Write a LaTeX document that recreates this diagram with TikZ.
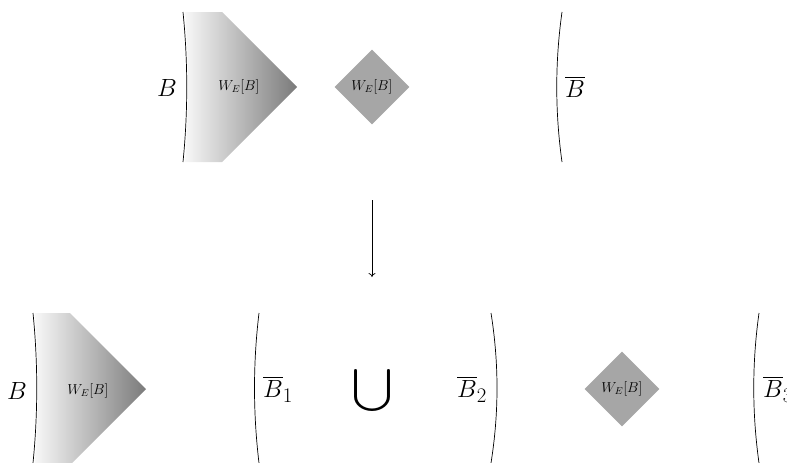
\documentclass[tikz,border=0pt]{standalone}
\usepackage{amsmath}
\usetikzlibrary{arrows.meta,shapes.geometric}
\begin{document}
\begin{tikzpicture}[x=1pt,y=-1pt,
  bnd/.style={line width=0.7pt,black},
  biglbl/.style={inner sep=0pt,font=\Huge},
  wlbl/.style={inner sep=0pt,font=\Large},
  dia/.style={diamond,fill=black!35,minimum width=75pt,minimum height=75pt,inner sep=0pt,font=\Large},
  grad/.style={left color=black!3,right color=black!52}]
\useasboundingbox (0,0) rectangle (787,463);
% top row
\shade[grad] (185,12) .. controls (189,62) and (189,112) .. (185,162) -- (222,162) -- (297,87) -- (222,12) -- cycle;
\draw[bnd] (183,12) .. controls (188,62) and (188,112) .. (183,162);
\node[biglbl] (tB) at (167,88) {$B$};
\node[wlbl] (tW) at (239,87) {$W_E[B]$};
\node[dia] (tD) at (372,87) {$W_E[B]$};
\draw[bnd] (562,12) .. controls (555,62) and (555,112) .. (562,162);
\node[biglbl] (tBb) at (575,87) {$\overline{B}$};
% arrow
\coordinate (a1) at (372,200);
\coordinate (a2) at (372,277);
\draw[line width=0.7pt,-{To[length=4pt,width=7pt]}] (a1) -- (a2);
% bottom row
\shade[grad] (35,313) .. controls (39,363) and (39,413) .. (35,463) -- (72,463) -- (146,389) -- (70,313) -- cycle;
\draw[bnd] (33,313) .. controls (38,363) and (38,413) .. (33,463);
\node[biglbl] (bB) at (17,391) {$B$};
\node[wlbl] (bW) at (88,391) {$W_E[B]$};
\draw[bnd] (259,313) .. controls (253,363) and (253,413) .. (259,463);
\node[biglbl,anchor=west] (bB1) at (263,389) {$\overline{B}_1$};
\node[inner sep=0pt] (cup) at (372,390) {\scalebox{3.6}[3.0]{$\displaystyle\bigcup$}};
\node[biglbl,anchor=west] (bB2) at (457,389) {$\overline{B}_2$};
\draw[bnd] (491,313) .. controls (499,363) and (499,413) .. (491,463);
\node[dia] (bD) at (622,389) {$W_E[B]$};
\draw[bnd] (759,313) .. controls (752,363) and (752,413) .. (759,463);
\node[biglbl,anchor=west] (bB3) at (763,389) {$\overline{B}_3$};
\end{tikzpicture}
\end{document}
